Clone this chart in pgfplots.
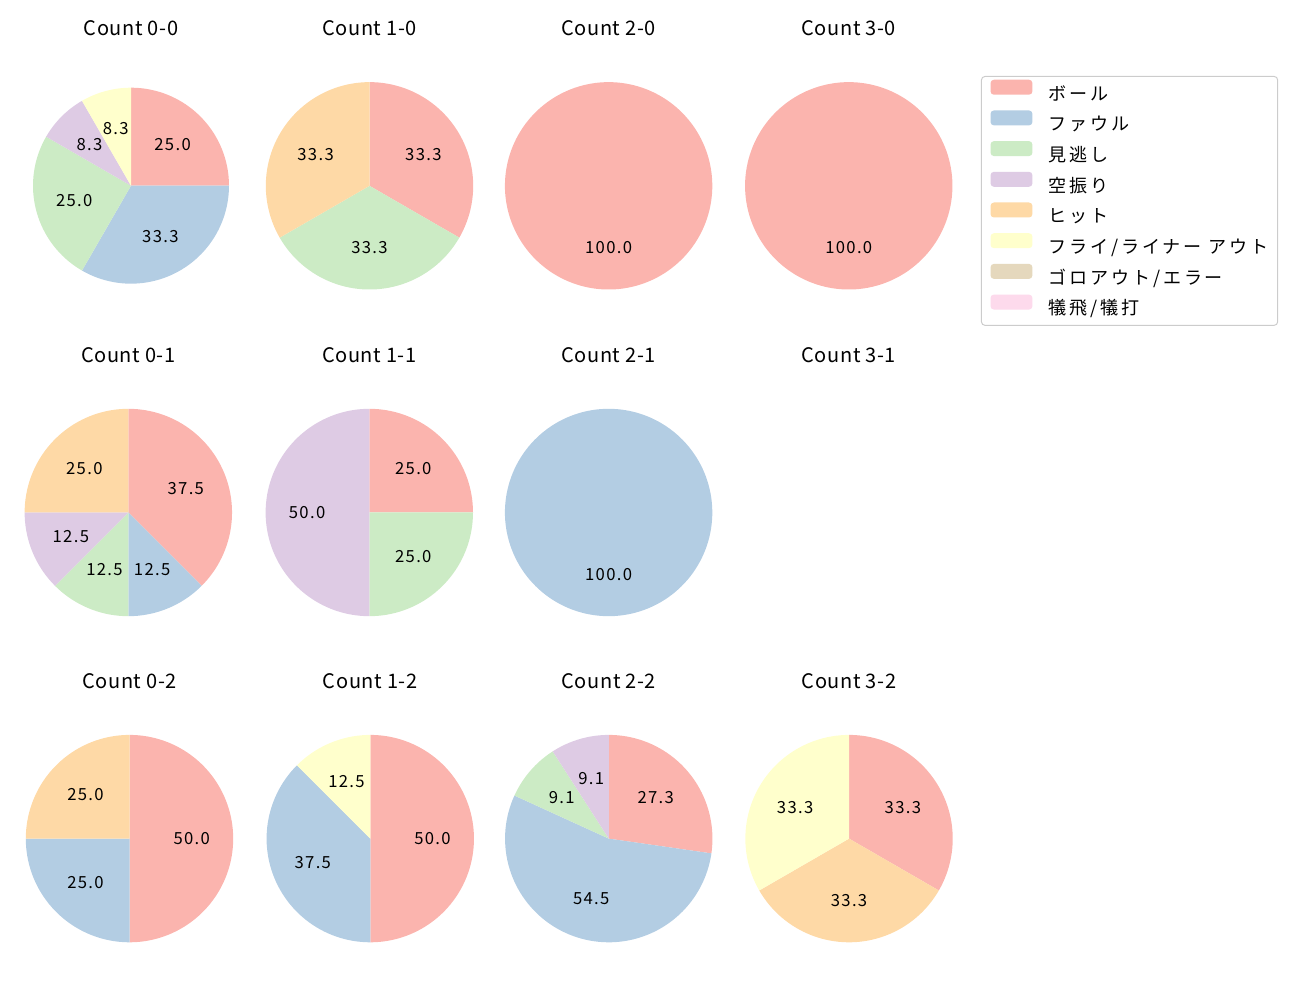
\documentclass[border=0pt]{standalone}
\usepackage{fontspec}
\setmainfont{Noto Sans CJK JP}
\newfontfamily\jpl[LetterSpace=8]{Noto Sans CJK JP}
\newfontfamily\jpg[LetterSpace=16]{Noto Sans CJK JP}
\newfontfamily\jpt[LetterSpace=3]{Noto Sans CJK JP}
\newcommand\lblfont{\jpl\fontsize{12}{14}\selectfont}
\newcommand\legfont{\jpg\fontsize{13}{15}\selectfont}
\newcommand\titfont{\jpt\fontsize{14.4}{17}\selectfont}
\usepackage{pgfplots}
\pgfplotsset{compat=1.18}
\definecolor{c1}{HTML}{FBB4AE}
\definecolor{c2}{HTML}{B3CDE3}
\definecolor{c3}{HTML}{CCEBC5}
\definecolor{c4}{HTML}{DECBE4}
\definecolor{c5}{HTML}{FED9A6}
\definecolor{c6}{HTML}{FFFFCC}
\definecolor{c7}{HTML}{E5D8BD}
\definecolor{c8}{HTML}{FDDAEC}
% slice: colour, cumulative start (percent), value (percent), label
\newcommand\slice[4]{%
 \pgfmathsetmacro\aS{90-3.6*#2}%
 \pgfmathsetmacro\aE{90-3.6*(#2+#3)}%
 \pgfmathsetmacro\aM{0.5*(\aS+\aE)}%
 \pgfmathsetmacro\lx{0.6*cos(\aM)}%
 \pgfmathsetmacro\ly{0.6*sin(\aM)}%
 \pgfmathtruncatemacro\ns{max(4,ceil(#3*1.5))}%
 \edef\doslice{\noexpand\addplot[fill=#1,draw=none,domain=\aE:\aS,samples=\ns] ({cos(x)},{sin(x)}) -- (axis cs:0,0) -- cycle;
 \noexpand\node[font=\noexpand\lblfont,inner sep=0pt] at (axis cs:\lx,\ly) {#4};}%
 \doslice}
\pgfplotsset{pie/.style={hide axis, scale only axis, width=186.66pt, height=186.66pt,
  xmin=-1.25,xmax=1.25,ymin=-1.25,ymax=1.25, anchor=center, clip=false,
  every axis title shift=0pt,
  title style={at={(0.5,1.078)}, anchor=base, yshift=0pt, font=\titfont, inner sep=0pt}}}
\begin{document}
\begin{tikzpicture}
\path[use as bounding box] (0,0) rectangle (936pt,720pt);
% Row 1
\begin{axis}[pie, width=176.4pt, height=176.4pt, at={(94.32pt,586.3pt)}, title={Count 0-0},
  title style={at={(0.5,1.111)}}]
\slice{c1}{0}{25}{25.0}
\slice{c2}{25}{33.333}{33.3}
\slice{c3}{58.333}{25}{25.0}
\slice{c4}{83.333}{8.333}{8.3}
\slice{c6}{91.667}{8.333}{8.3}
\end{axis}
\begin{axis}[pie, at={(266.04pt,586.2pt)}, title={Count 1-0}]
\slice{c1}{0}{33.333}{33.3}
\slice{c3}{33.333}{33.333}{33.3}
\slice{c5}{66.667}{33.333}{33.3}
\end{axis}
\begin{axis}[pie, at={(438.2pt,586.2pt)}, title={Count 2-0}]
\slice{c1}{0}{100}{100.0}
\end{axis}
\begin{axis}[pie, at={(611.1pt,586.2pt)}, title={Count 3-0}]
\slice{c1}{0}{100}{100.0}
\end{axis}
% Row 2
\begin{axis}[pie, at={(92.4pt,351.0pt)}, title={Count 0-1}]
\slice{c1}{0}{37.5}{37.5}
\slice{c2}{37.5}{12.5}{12.5}
\slice{c3}{50}{12.5}{12.5}
\slice{c4}{62.5}{12.5}{12.5}
\slice{c5}{75}{25}{25.0}
\end{axis}
\begin{axis}[pie, at={(265.9pt,351.0pt)}, title={Count 1-1}]
\slice{c1}{0}{25}{25.0}
\slice{c3}{25}{25}{25.0}
\slice{c4}{50}{50}{50.0}
\end{axis}
\begin{axis}[pie, at={(438.2pt,351.0pt)}, title={Count 2-1}]
\slice{c2}{0}{100}{100.0}
\end{axis}
\begin{axis}[pie, at={(611.1pt,351.0pt)}, title={Count 3-1}]
\end{axis}
% Row 3
\begin{axis}[pie, at={(93.24pt,116.2pt)}, title={Count 0-2}]
\slice{c1}{0}{50}{50.0}
\slice{c2}{50}{25}{25.0}
\slice{c5}{75}{25}{25.0}
\end{axis}
\begin{axis}[pie, at={(266.6pt,116.2pt)}, title={Count 1-2}]
\slice{c1}{0}{50}{50.0}
\slice{c2}{50}{37.5}{37.5}
\slice{c6}{87.5}{12.5}{12.5}
\end{axis}
\begin{axis}[pie, at={(438.3pt,116.2pt)}, title={Count 2-2}]
\slice{c1}{0}{27.273}{27.3}
\slice{c2}{27.273}{54.545}{54.5}
\slice{c3}{81.818}{9.091}{9.1}
\slice{c4}{90.909}{9.091}{9.1}
\end{axis}
\begin{axis}[pie, at={(611.3pt,116.2pt)}, title={Count 3-2}]
\slice{c1}{0}{33.333}{33.3}
\slice{c5}{33.333}{33.333}{33.3}
\slice{c6}{66.667}{33.333}{33.3}
\end{axis}
% Legend
\begin{axis}[hide axis, scale only axis, width=10pt, height=10pt,
  at={(706.3pt,665.3pt)}, anchor=north west, xmin=0,xmax=1,ymin=0,ymax=1,
  legend image code/.code={\fill[#1,draw=none] (0pt,-0.9pt) rectangle (30.2pt,9.9pt);},
  legend style={at={(0,1)}, anchor=north west, draw={rgb,255:red,204;green,204;blue,204},
    line width=0.7pt, rounded corners=2.5pt, inner xsep=6.5pt, inner ysep=1.2pt,
    font=\legfont, row sep=0pt, column sep=11.5pt,
    nodes={inner sep=0pt, text height=15.8pt, text depth=6.3pt}},
  legend cell align=left]
\addlegendimage{fill=c1}\addlegendentry{ボール}
\addlegendimage{fill=c2}\addlegendentry{ファウル}
\addlegendimage{fill=c3}\addlegendentry{見逃し}
\addlegendimage{fill=c4}\addlegendentry{空振り}
\addlegendimage{fill=c5}\addlegendentry{ヒット}
\addlegendimage{fill=c6}\addlegendentry{フライ/ライナー アウト}
\addlegendimage{fill=c7}\addlegendentry{ゴロアウト/エラー}
\addlegendimage{fill=c8}\addlegendentry{犠飛/犠打}
\end{axis}
\end{tikzpicture}
\end{document}
